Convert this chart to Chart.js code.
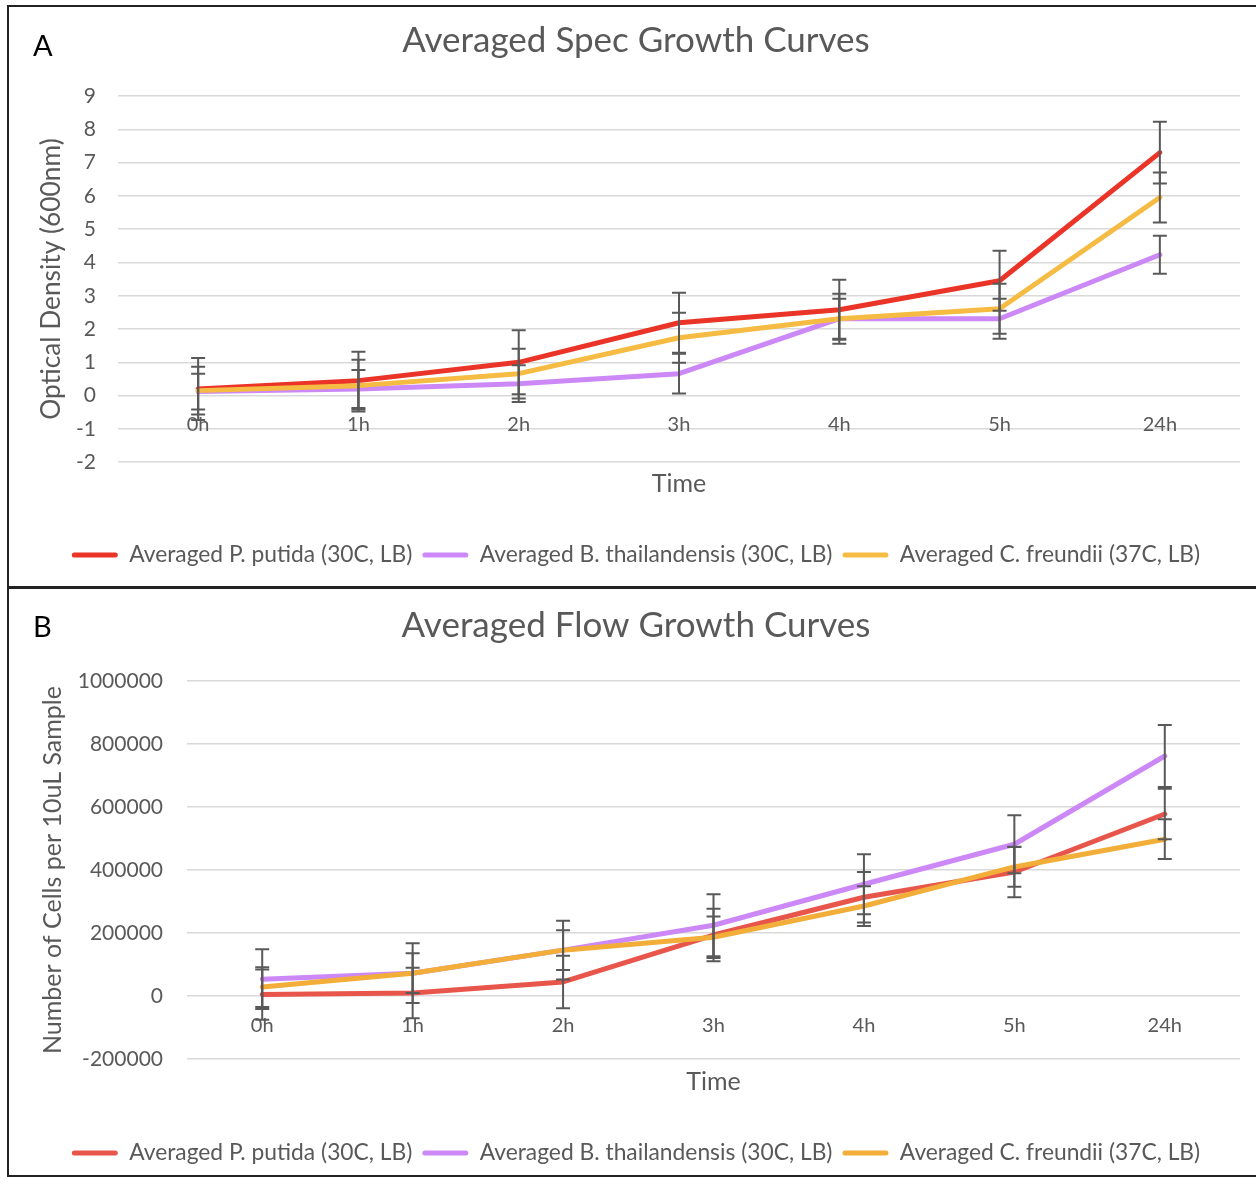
<!DOCTYPE html>
<html><head><meta charset="utf-8">
<script src="https://cdn.jsdelivr.net/npm/chart.js@4.4.1/dist/chart.umd.min.js"></script>
<style>
html,body{margin:0;padding:0;background:#fff;overflow:hidden;width:1256px;height:1179px;}
#frame{position:absolute;left:7px;top:5px;width:1262px;height:1172px;border:2px solid #222;box-sizing:border-box;}
#divider{position:absolute;left:7px;top:586px;width:1262px;height:3px;background:#222;}
canvas{position:absolute;}
#cA{left:32px;top:8px;}
#cB{left:32px;top:589px;}
.tag{position:absolute;font-family:Lato;font-size:29px;color:#000;line-height:1;}
</style></head>
<body>
<div id="frame"></div><div id="divider"></div>
<canvas id="cA" width="1224" height="578"></canvas>
<canvas id="cB" width="1224" height="588"></canvas>
<div class="tag" style="left:33px;top:30px">A</div>
<div class="tag" style="left:33px;top:611px">B</div>
<script>
// ---- data ----
const timeLabels = ['0h', '1h', '2h', '3h', '4h', '5h', '24h'];
const seriesNames = ['Averaged P. putida (30C, LB)', 'Averaged B. thailandensis (30C, LB)', 'Averaged C. freundii (37C, LB)'];

const specPutida    = [0.20, 0.45, 1.00, 2.19, 2.58, 3.45, 7.30];
const specThai      = [0.12, 0.20, 0.36, 0.66, 2.31, 2.31, 4.23];
const specFreundii  = [0.15, 0.30, 0.66, 1.74, 2.31, 2.61, 5.95];
const specPutidaErr   = [0.93, 0.87, 0.96, 0.90, 0.90, 0.90, 0.93];
const specThaiErr     = [0.54, 0.57, 0.55, 0.60, 0.60, 0.60, 0.57];
const specFreundiiErr = [0.72, 0.78, 0.75, 0.75, 0.75, 0.75, 0.75];

const flowPutida    = [5000, 10000, 45000, 194000, 314000, 394000, 578000];
const flowThai      = [54000, 73000, 146000, 225000, 355000, 482000, 762000];
const flowFreundii  = [29000, 73000, 146000, 187000, 286000, 410000, 498000];
const flowPutidaErr   = [80000, 80000, 83000, 83000, 80000, 80000, 80000];
const flowThaiErr     = [95000, 95000, 93000, 98000, 95000, 92000, 98000];
const flowFreundiiErr = [63000, 63000, 63000, 66000, 63000, 63000, 63000];

// ---- styling ----
const GRAY = '#595959';
Chart.defaults.font.family = 'Lato';
Chart.defaults.color = GRAY;

const errorBarPlugin = {
  id: 'errorBars',
  afterDatasetsDraw(chart, args, opts) {
    const ctx = chart.ctx;
    const yScale = chart.scales.y;
    ctx.save();
    ctx.strokeStyle = opts.color;
    ctx.lineWidth = opts.width;
    chart.data.datasets.forEach((ds, i) => {
      if (!ds.errorBars) return;
      const meta = chart.getDatasetMeta(i);
      meta.data.forEach((pt, j) => {
        const v = ds.data[j], e = ds.errorBars[j];
        const x = pt.x;
        const yTop = yScale.getPixelForValue(v + e);
        const yBot = yScale.getPixelForValue(v - e);
        ctx.beginPath();
        ctx.moveTo(x, yTop); ctx.lineTo(x, yBot);
        ctx.moveTo(x - opts.cap, yTop); ctx.lineTo(x + opts.cap, yTop);
        ctx.moveTo(x - opts.cap, yBot); ctx.lineTo(x + opts.cap, yBot);
        ctx.stroke();
      });
    });
    ctx.restore();
  }
};

function buildChart(id, o) {
  return new Chart(document.getElementById(id), {
    type: 'line',
    data: {
      labels: timeLabels,
      datasets: o.series.map((s, i) => ({
        label: s.label, data: s.data, errorBars: s.err,
        borderColor: s.color, backgroundColor: s.color,
        borderWidth: 5, pointRadius: 0, pointHoverRadius: 0, tension: 0,
        borderCapStyle: 'round', borderJoinStyle: 'round',
        order: o.series.length - 1 - i, clip: false
      }))
    },
    options: {
      responsive: false, animation: false, events: [],
      layout: { padding: { top: 0, left: 0, right: 16, bottom: o.padBottom } },
      plugins: {
        title: { display: true, text: o.title, color: GRAY, font: { size: 35, weight: 'normal' },
                 padding: { top: o.titlePadTop, bottom: o.titlePadBottom } },
        legend: { position: 'bottom',
          labels: { boxWidth: 46, boxHeight: 5, padding: 10, color: GRAY, font: { size: 22.8 },
            useBorderRadius: true, borderRadius: 2.5,
            sort: (a, b) => a.datasetIndex - b.datasetIndex,
            generateLabels(chart) {
              return Chart.defaults.plugins.legend.labels.generateLabels(chart).map(l => ({ ...l, lineWidth: 0 }));
            } } },
        tooltip: { enabled: false },
        errorBars: { color: GRAY, width: 2, cap: 7 }
      },
      scales: {
        y: { min: o.yMin, max: o.yMax,
          ticks: { stepSize: o.yStep, padding: o.yTickPad, color: GRAY, font: { size: 21 }, format: { useGrouping: false } },
          grid: { color: '#d9d9d9', lineWidth: 1.5, drawTicks: false },
          border: { display: false },
          title: { display: true, text: o.yTitle, color: GRAY, font: { size: o.yTitleSize }, padding: { top: o.yTitlePad, bottom: 0 } },
          afterFit(s) { s.width = o.yWidth; } },
        x: { type: 'category', position: { y: 0 }, offset: true,
          grid: { display: false, drawTicks: false }, border: { display: false },
          ticks: { padding: 17, color: GRAY, font: { size: 20 }, maxRotation: 0, autoSkip: false } },
        x2: { type: 'category', labels: timeLabels, position: 'bottom', offset: true,
          grid: { display: false, drawTicks: false }, border: { display: false },
          ticks: { display: false },
          title: { display: true, text: 'Time', color: GRAY, font: { size: 25 },
                   padding: { top: o.xTitlePadTop, bottom: o.xTitlePadBottom } } }
      }
    },
    plugins: [errorBarPlugin]
  });
}

buildChart('cA', {
  title: 'Averaged Spec Growth Curves', yTitle: 'Optical Density (600nm)', yTitleSize: 26.3,
  yMin: -2, yMax: 9, yStep: 1, yTickPad: 22, yWidth: 86, yTitlePad: 4.2,
  titlePadTop: 12, titlePadBottom: 34, xTitlePadTop: 7, xTitlePadBottom: 34.5, padBottom: 9.5,
  series: [
    { label: seriesNames[0], data: specPutida, err: specPutidaErr, color: '#ea3428' },
    { label: seriesNames[1], data: specThai, err: specThaiErr, color: '#cc88f7' },
    { label: seriesNames[2], data: specFreundii, err: specFreundiiErr, color: '#f5bb42' }
  ]
});

buildChart('cB', {
  title: 'Averaged Flow Growth Curves', yTitle: 'Number of Cells per 10uL Sample', yTitleSize: 25,
  yMin: -200000, yMax: 1000000, yStep: 200000, yTickPad: 24, yWidth: 155, yTitlePad: 6,
  titlePadTop: 16, titlePadBottom: 34, xTitlePadTop: 8, xTitlePadBottom: 34.5, padBottom: 2.5,
  series: [
    { label: seriesNames[0], data: flowPutida, err: flowPutidaErr, color: '#e8564b' },
    { label: seriesNames[1], data: flowThai, err: flowThaiErr, color: '#cc88f7' },
    { label: seriesNames[2], data: flowFreundii, err: flowFreundiiErr, color: '#f2ae38' }
  ]
});
</script>
</body></html>
